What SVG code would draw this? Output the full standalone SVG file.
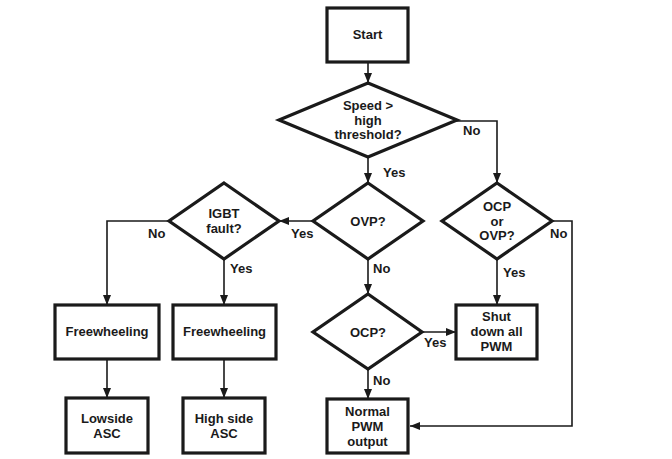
<svg xmlns="http://www.w3.org/2000/svg" width="672" height="459" viewBox="0 0 672 459">
<defs>
<style>
.box{fill:#fff;stroke:#1a1a1a;stroke-width:3.2}
.dia{fill:#fff;stroke:#1a1a1a;stroke-width:3.2;stroke-linejoin:miter}
.t{font-family:"Liberation Sans",Arial,sans-serif;font-weight:bold;font-size:13px;fill:#1a1a1a;text-anchor:middle}
.l{font-family:"Liberation Sans",Arial,sans-serif;font-weight:bold;font-size:13px;fill:#1a1a1a}
.c{fill:none;stroke:#1a1a1a;stroke-width:1.6;marker-end:url(#ah)}
</style>
<marker id="ah" markerUnits="userSpaceOnUse" markerWidth="10" markerHeight="8" refX="10" refY="4" orient="auto">
<path d="M0,0 L10,4 L0,8 z" fill="#1a1a1a"/>
</marker>
</defs>
<rect width="672" height="459" fill="#fff"/>
<g id="connectors">
<path class="c" d="M368,62 V83"/>
<path class="c" d="M368,157 V183"/>
<path class="c" d="M455,121 H497 V183"/>
<path class="c" d="M313,221 H279"/>
<path class="c" d="M169,221 H107 V305"/>
<path class="c" d="M224,259 V305"/>
<path class="c" d="M107,359 V398"/>
<path class="c" d="M224,359 V398"/>
<path class="c" d="M368,259 V294"/>
<path class="c" d="M422,332 H456"/>
<path class="c" d="M368,369 V399"/>
<path class="c" d="M497,259 V305"/>
<path class="c" d="M552,221 H572 V426 H410"/>
<text class="l" x="463" y="135">No</text>
<text class="l" x="383" y="177">Yes</text>
<text class="l" x="291" y="238">Yes</text>
<text class="l" x="148" y="238">No</text>
<text class="l" x="230" y="273">Yes</text>
<text class="l" x="373" y="273">No</text>
<text class="l" x="550" y="238">No</text>
<text class="l" x="503" y="277">Yes</text>
<text class="l" x="424" y="347">Yes</text>
<text class="l" x="373" y="385">No</text>
</g>
<g id="start">
<rect class="box" x="327" y="8" width="81" height="54"/>
<text class="t" x="367.5" y="39">Start</text>
</g>
<g id="speed">
<polygon class="dia" points="368,83 457,120 368,157 279,120"/>
<text class="t" x="368" y="110">Speed &gt;</text>
<text class="t" x="368" y="124.5">high</text>
<text class="t" x="368" y="139">threshold?</text>
</g>
<g id="ovp">
<polygon class="dia" points="368,183 423,221 368,259 313,221"/>
<text class="t" x="368" y="226">OVP?</text>
</g>
<g id="ocp-or-ovp">
<polygon class="dia" points="497,183 552,221 497,259 442,221"/>
<text class="t" x="497" y="211">OCP</text>
<text class="t" x="497" y="225.5">or</text>
<text class="t" x="497" y="240">OVP?</text>
</g>
<g id="igbt">
<polygon class="dia" points="224,183 279,221 224,259 169,221"/>
<text class="t" x="224" y="218">IGBT</text>
<text class="t" x="224" y="233">fault?</text>
</g>
<g id="ocp">
<polygon class="dia" points="368,294 422,332 368,369 313,332"/>
<text class="t" x="368" y="337">OCP?</text>
</g>
<g id="shutdown">
<rect class="box" x="456" y="305" width="81" height="54"/>
<text class="t" x="496.5" y="321">Shut</text>
<text class="t" x="496.5" y="336">down all</text>
<text class="t" x="496.5" y="351">PWM</text>
</g>
<g id="normal">
<rect class="box" x="327" y="399" width="81" height="54"/>
<text class="t" x="367.5" y="416">Normal</text>
<text class="t" x="367.5" y="431">PWM</text>
<text class="t" x="367.5" y="446">output</text>
</g>
<g id="freewheeling1">
<rect class="box" x="55" y="305" width="104" height="54"/>
<text class="t" x="107" y="336">Freewheeling</text>
</g>
<g id="freewheeling2">
<rect class="box" x="173" y="305" width="103" height="54"/>
<text class="t" x="224.5" y="336">Freewheeling</text>
</g>
<g id="lowside">
<rect class="box" x="66" y="398" width="82" height="55"/>
<text class="t" x="107" y="423">Lowside</text>
<text class="t" x="107" y="438">ASC</text>
</g>
<g id="highside">
<rect class="box" x="183" y="398" width="82" height="55"/>
<text class="t" x="224" y="423">High side</text>
<text class="t" x="224" y="438">ASC</text>
</g>
</svg>
